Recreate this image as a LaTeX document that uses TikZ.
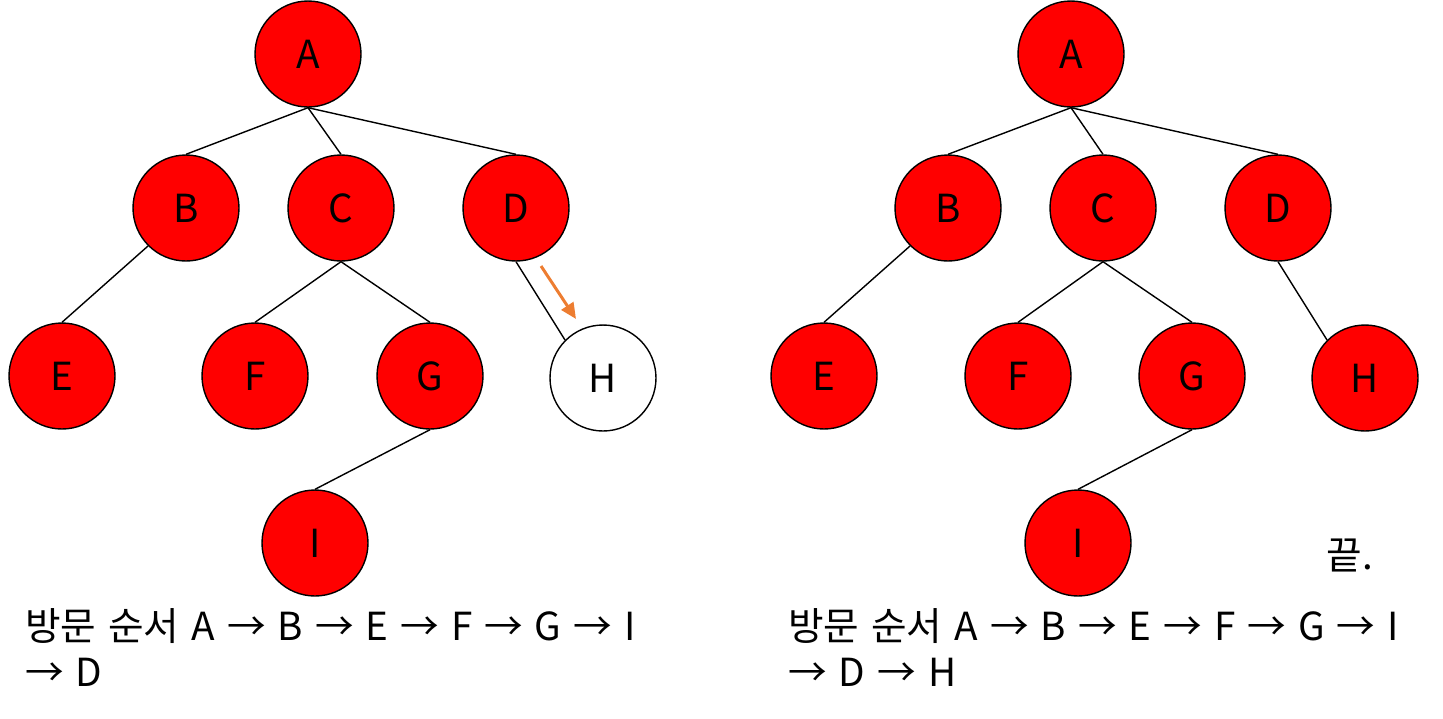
\documentclass[tikz,border=0pt]{standalone}
\usepackage{fontspec}
\setmainfont{Noto Sans CJK KR}
\usetikzlibrary{arrows.meta}
\definecolor{nodered}{RGB}{255,0,0}
\definecolor{arroworange}{RGB}{237,125,49}
\newcommand{\widespaces}{\spaceskip=0.31em\relax}
\begin{document}
\begin{tikzpicture}[x=0.02cm, y=-0.02cm]

	%STYLES
	\tikzstyle{every node}=[font=\fontsize{22}{26}\selectfont]
	\tikzstyle{vertex} = [draw, circle, line width=0.8pt, fill=nodered, minimum size=2.12cm, inner sep=0pt]
	\tikzstyle{newvertex} = [draw, circle, line width=0.8pt, fill=white, minimum size=2.12cm, inner sep=0pt]
	\tikzstyle{edge} = [line width=0.8pt]
	\tikzstyle{move} = [-{Triangle[length=9pt, width=8pt]}, line width=1.7pt, arroworange]
	\tikzstyle{caption} = [anchor=north west, align=left, inner sep=0pt, font=\fontsize{22}{26}\selectfont\widespaces]

	\useasboundingbox (0,0) rectangle (1443,718);

	%LEFT TREE
	\draw(308,54) node[vertex](a1){A};
	\draw(186,208) node[vertex](b1){B};
	\draw(341,208) node[vertex](c1){C};
	\draw(516,208) node[vertex](d1){D};
	\draw(62,376) node[vertex](e1){E};
	\draw(255,376) node[vertex](f1){F};
	\draw(430,376) node[vertex](g1){G};
	\draw(603,378) node[newvertex](h1){H};
	\draw(315,543) node[vertex](i1){I};

	\draw [edge] (a1.south) -- (b1.north);
	\draw [edge] (a1.south) -- (c1.north);
	\draw [edge] (a1.south) -- (d1.north);
	\draw [edge] (b1.225) -- (e1.north);
	\draw [edge] (c1.south) -- (f1.north);
	\draw [edge] (c1.south) -- (g1.north);
	\draw [edge] (d1.south) -- (h1.135);
	\draw [edge] (g1.south) -- (i1.north);

	\coordinate (s1) at (541,266);
	\coordinate (t1) at (576,319);
	\draw [move] (s1) -- (t1);

	\draw(25,608) node[caption](order1){방문 순서 A → B → E → F → G → I\\→ D};

	%RIGHT TREE
	\draw(1071,54) node[vertex](a2){A};
	\draw(948,208) node[vertex](b2){B};
	\draw(1103,208) node[vertex](c2){C};
	\draw(1278,208) node[vertex](d2){D};
	\draw(824,376) node[vertex](e2){E};
	\draw(1018,376) node[vertex](f2){F};
	\draw(1192,376) node[vertex](g2){G};
	\draw(1365,378) node[vertex](h2){H};
	\draw(1078,543) node[vertex](i2){I};

	\draw [edge] (a2.south) -- (b2.north);
	\draw [edge] (a2.south) -- (c2.north);
	\draw [edge] (a2.south) -- (d2.north);
	\draw [edge] (b2.225) -- (e2.north);
	\draw [edge] (c2.south) -- (f2.north);
	\draw [edge] (c2.south) -- (g2.north);
	\draw [edge] (d2.south) -- (h2.135);
	\draw [edge] (g2.south) -- (i2.north);

	\draw(1350,555) node(done){끝.};
	\draw(788,608) node[caption](order2){방문 순서 A → B → E → F → G → I\\→ D → H};
\end{tikzpicture}
\end{document}
